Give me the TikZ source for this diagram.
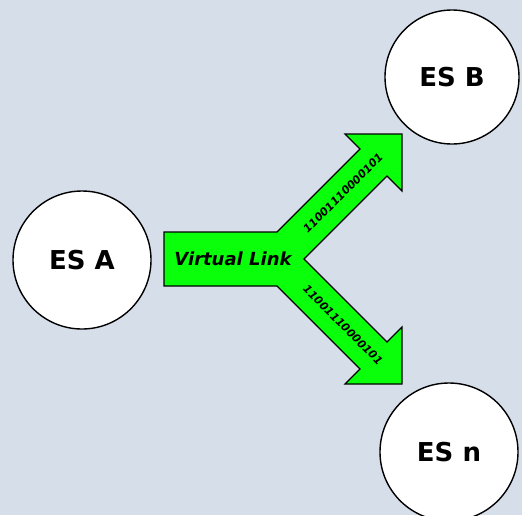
\documentclass[tikz,border=0pt]{standalone}
\usepackage{fontspec}
\setmainfont{DejaVu Sans}
\definecolor{bgblue}{RGB}{214,222,234}
\definecolor{linkgreen}{RGB}{10,255,10}

\begin{document}
\begin{tikzpicture}[x = 1pt, y = -1pt,
    station/.style = {circle, draw, line width = 1.4pt, fill = white, minimum size = 138pt, font = \fontsize{26}{30}\selectfont\bfseries},
    bits/.style = {font = \fontsize{11}{13}\selectfont\bfseries\itshape}]
    \fill[bgblue] (0,0) rectangle (522,515);
    \useasboundingbox (0,0) rectangle (522,515);
    \node[station] (a) at (82,260) {ES A};
    \node[station, minimum size = 134pt] (b) at (452,77) {ES B};
    \node[station] (n) at (449,452) {ES n};
    % Virtual link arrow
    \draw[fill = linkgreen, line width = 1.1pt, line join = miter]
      (164,232) -- (277,232) -- (360,149) -- (345,134) -- (402,134) -- (402,191) -- (387,176)
      -- (304,259) -- (387,342) -- (402,327) -- (402,384) -- (345,384) -- (360,369)
      -- (277,286) -- (164,286) -- cycle;
    % Labels
    \node[font = \fontsize{18}{22}\selectfont\bfseries\itshape] (vl) at (233,259) {Virtual Link};
    \node[bits, rotate = 45] (up) at (343,193) {11001110000101};
    \node[bits, rotate = -45] (down) at (343,325) {11001110000101};
  \end{tikzpicture}
\end{document}
